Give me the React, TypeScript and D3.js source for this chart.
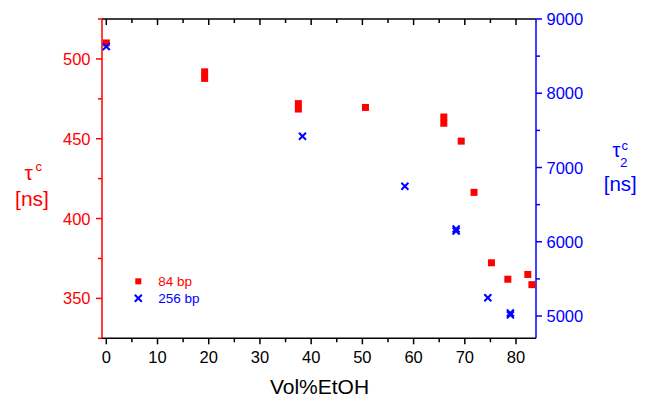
import React from "react";
import * as d3 from "d3";

const xTicksMajor = [0, 10, 20, 30, 40, 50, 60, 70, 80];
const xTicksMinor = [5, 15, 25, 35, 45, 55, 65, 75];
const leftTicksMajor = [350, 400, 450, 500];
const leftTicksMinor = [325, 375, 425, 475, 525];
const rightTicksMajor = [5000, 6000, 7000, 8000, 9000];
const rightTicksMinor = [5500, 6500, 7500, 8500];

const bp84X = [0, 19.2, 19.2, 37.5, 37.5, 50.6, 65.9, 65.9, 69.3, 71.8, 75.2, 78.4, 82.3, 83.1];
const bp84Y = [510, 491.9, 487.8, 472.0, 468.6, 469.6, 463.6, 459.7, 448.5, 416.4, 372.3, 362.0, 365.0, 358.6];

const bp256X = [0, 38.3, 58.3, 68.3, 68.3, 74.5, 78.9, 78.9];
const bp256Y = [8630, 7422, 6747, 6172, 6145, 5247, 5040, 5015];

const legendLabels = ["84 bp", "256 bp"];

const RED = "#ff0000";
const BLUE = "#0000ff";
const FONT = "'Liberation Sans', Arial, sans-serif";

export default function App() {
  const L = 102, R = 536, T = 19, B = 338.3;
  const x = d3.scaleLinear().domain([-0.84, 83.9]).range([L, R]);
  const yL = d3.scaleLinear().domain([325, 525]).range([B, T]);
  const yR = d3.scaleLinear().domain([4700, 9000]).range([B, T]);
  const sq = 7;
  const xs = 3.5;

  const cross = (cx: number, cy: number, key: string, sw = 2) => (
    <g key={key} stroke={BLUE} strokeWidth={sw}>
      <line x1={cx - xs} y1={cy - xs} x2={cx + xs} y2={cy + xs} />
      <line x1={cx - xs} y1={cy + xs} x2={cx + xs} y2={cy - xs} />
    </g>
  );

  return (
    <svg width={646} height={400} style={{ position: "absolute", left: 0, top: 0 }} fontFamily={FONT}>
      <rect width={646} height={400} fill="#fff" />
      {/* top axis */}
      <line x1={L} y1={T} x2={R} y2={T} stroke="#000" strokeWidth={1.5} />
      {xTicksMajor.map((t) => (
        <line key={"tM" + t} x1={x(t)} x2={x(t)} y1={T} y2={T + 6} stroke="#000" strokeWidth={1.5} />
      ))}
      {xTicksMinor.map((t) => (
        <line key={"tm" + t} x1={x(t)} x2={x(t)} y1={T} y2={T + 4} stroke="#000" strokeWidth={1.5} />
      ))}
      {/* bottom axis */}
      <line x1={L} y1={B} x2={R} y2={B} stroke="#000" strokeWidth={1.5} />
      {xTicksMajor.map((t) => (
        <line key={"bM" + t} x1={x(t)} x2={x(t)} y1={B} y2={B + 6} stroke="#000" strokeWidth={1.5} />
      ))}
      {xTicksMinor.map((t) => (
        <line key={"bm" + t} x1={x(t)} x2={x(t)} y1={B} y2={B + 4} stroke="#000" strokeWidth={1.5} />
      ))}
      {xTicksMajor.map((t) => (
        <text key={"bl" + t} x={x(t)} y={363} textAnchor="middle" fontSize={16.5} fill="#000">
          {t}
        </text>
      ))}
      <text x={319.5} y={394} textAnchor="middle" fontSize={21} fill="#000">
        Vol%EtOH
      </text>

      {/* left axis */}
      <line x1={L} y1={T} x2={L} y2={B} stroke={RED} strokeWidth={1.5} />
      {leftTicksMajor.map((t) => (
        <line key={"lM" + t} x1={L - 6} x2={L} y1={yL(t)} y2={yL(t)} stroke={RED} strokeWidth={1.5} />
      ))}
      {leftTicksMinor.map((t) => (
        <line key={"lm" + t} x1={L - 4} x2={L} y1={yL(t)} y2={yL(t)} stroke={RED} strokeWidth={1.5} />
      ))}
      {leftTicksMajor.map((t) => (
        <text key={"ll" + t} x={90.5} y={yL(t) + 6} textAnchor="end" fontSize={16.5} fill={RED}>
          {t}
        </text>
      ))}
      <text x={24.5} y={180} fontSize={21} fill={RED}>τ</text>
      <text x={35.5} y={170.5} fontSize={13} fill={RED}>c</text>
      <text x={32} y={205.5} textAnchor="middle" fontSize={21} fill={RED}>[ns]</text>

      {/* right axis */}
      <line x1={R} y1={T} x2={R} y2={B} stroke={BLUE} strokeWidth={1.5} />
      {rightTicksMajor.map((t) => (
        <line key={"rM" + t} x1={R} x2={R + 6} y1={yR(t)} y2={yR(t)} stroke={BLUE} strokeWidth={1.5} />
      ))}
      {rightTicksMinor.map((t) => (
        <line key={"rm" + t} x1={R} x2={R + 4} y1={yR(t)} y2={yR(t)} stroke={BLUE} strokeWidth={1.5} />
      ))}
      {rightTicksMajor.map((t) => (
        <text key={"rl" + t} x={546.5} y={yR(t) + 6} textAnchor="start" fontSize={16.5} fill={BLUE}>
          {t}
        </text>
      ))}
      <text x={612.5} y={156.7} fontSize={20} fill={BLUE}>τ</text>
      <text x={621.5} y={150} fontSize={13} fill={BLUE}>c</text>
      <text x={620} y={166.7} fontSize={13.5} fill={BLUE}>2</text>
      <text x={620.3} y={191} textAnchor="middle" fontSize={20.5} fill={BLUE}>[ns]</text>

      {/* data */}
      {bp84X.map((v, i) => (
        <rect key={"r" + i} x={x(v) - sq / 2} y={yL(bp84Y[i]) - sq / 2} width={sq} height={sq} fill={RED} />
      ))}
      {bp256X.map((v, i) => cross(x(v), yR(bp256Y[i]), "c" + i))}

      {/* legend */}
      <rect x={138.3 - 3} y={281.3 - 3} width={6} height={6} fill={RED} />
      {cross(138.3, 298.3, "lc")}
      <text x={158.3} y={285.7} fontSize={13.5} fill={RED}>{legendLabels[0]}</text>
      <text x={158.3} y={302.5} fontSize={13.5} fill={BLUE}>{legendLabels[1]}</text>
    </svg>
  );
}
